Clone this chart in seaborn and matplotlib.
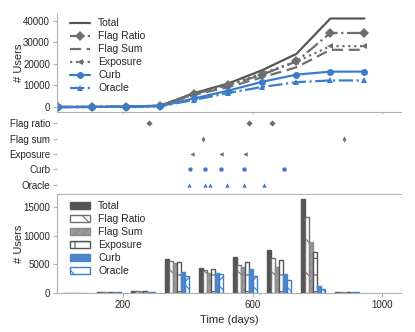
import numpy as np
import pandas as pd
import seaborn as sns
import matplotlib.pyplot as plt

# --- data ---
methods = ['Total', 'Flag Ratio', 'Flag Sum', 'Exposure', 'Curb', 'Oracle']

# cumulative users at the end of each 105-day window
line_days = [0, 105, 210, 315, 420, 525, 630, 735, 840, 945]
line_total = [0, 50, 200, 600, 6500, 10900, 17100, 24600, 41000, 41000]
line_flag_ratio = [0, 50, 200, 600, 6100, 10100, 15000, 21100, 34300, 34300]
line_flag_sum = [0, 50, 200, 550, 5700, 9200, 13800, 18400, 26500, 26500]
line_exposure = [0, 50, 200, 600, 6000, 10200, 15600, 21000, 28200, 28200]
line_curb = [0, 30, 130, 380, 4000, 7600, 11700, 15000, 16400, 16400]
line_oracle = [0, 30, 130, 380, 3300, 6500, 9300, 11500, 12300, 12300]

# per-window users (window centres)
bin_days = [52.5, 157.5, 262.5, 367.5, 472.5, 577.5, 682.5, 787.5, 892.5]
bar_total = [50, 150, 400, 5950, 4400, 6200, 7500, 16400, 100]
bar_flag_ratio = [50, 150, 400, 5500, 4000, 4900, 6100, 13300, 100]
bar_flag_sum = [50, 150, 350, 5200, 3500, 4600, 4600, 8900, 100]
bar_exposure = [50, 150, 400, 5400, 4200, 5400, 5700, 7100, 100]
bar_curb = [30, 100, 250, 3700, 3550, 4100, 3300, 1200, 100]
bar_oracle = [30, 100, 250, 3000, 3300, 3000, 2200, 750, 100]

# days at which each method raised a flag
event_labels = ['Flag ratio', 'Flag sum', 'Exposure', 'Curb', 'Oracle']
events_flag_ratio = [281, 589, 660]
events_flag_sum = [447, 883]
events_exposure = [413, 502, 577]
events_curb = [406, 454, 502, 573, 698]
events_oracle = [403, 452, 469, 521, 573, 635]


def main():
    sns.set_style('ticks')
    plt.rcParams['font.family'] = ['Liberation Sans', 'DejaVu Sans']
    plt.rcParams['font.size'] = 7
    plt.rcParams['hatch.linewidth'] = 0.8

    gray_dark = '#555555'
    gray = '#6e6e6e'
    blue = '#3b7dcb'
    spine_c = '#b0b0b0'

    fig = plt.figure(figsize=(4.15, 3.32), dpi=100)
    ax1 = fig.add_axes([0.1373, 0.6627, 0.829, 0.2952])
    ax2 = fig.add_axes([0.1373, 0.4157, 0.829, 0.2410])
    ax3 = fig.add_axes([0.1373, 0.1175, 0.829, 0.2952])
    xlim = (-4, 1058)

    # 1. cumulative lines
    line_series = [line_total, line_flag_ratio, line_flag_sum,
                   line_exposure, line_curb, line_oracle]
    styles = [
        dict(color=gray_dark, linestyle='-', marker=None),
        dict(color=gray, linestyle='-.', marker='D', markersize=5),
        dict(color=gray, linestyle=(0, (5, 2.5)), marker=None),
        dict(color=gray, linestyle=':', marker='<', markersize=5),
        dict(color=blue, linestyle='-', marker='o', markersize=5),
        dict(color=blue, linestyle='-.', marker='^', markersize=5),
    ]
    for name, vals, st in zip(methods, line_series, styles):
        sns.lineplot(x=line_days, y=vals, ax=ax1, label=name, linewidth=1.6,
                     markeredgewidth=0, **st)
    ax1.set_xlim(*xlim)
    ax1.set_ylim(-2300, 43100)
    ax1.set_yticks([0, 10000, 20000, 30000, 40000])
    ax1.set_xticks([200, 600, 1000])
    ax1.set_xticklabels([])
    ax1.set_ylabel('# Users', fontsize=8)
    ax1.legend(loc='upper left', frameon=False, handlelength=1.9,
               labelspacing=0.29, borderaxespad=0.2, fontsize=7.5,
               bbox_to_anchor=(0.02, 1.02))

    # 2. flag events
    event_series = [events_flag_ratio, events_flag_sum, events_exposure,
                    events_curb, events_oracle]
    ev_markers = ['D', 'd', '<', 'o', '^']
    ev_colors = [gray, gray, gray, blue, blue]
    for i, (days, m, c) in enumerate(zip(event_series, ev_markers, ev_colors)):
        sns.scatterplot(x=days, y=[i] * len(days), marker=m, color=c,
                        s=10, linewidth=0, ax=ax2)
    ax2.set_ylim(4.6, -0.6)
    ax2.set_yticks(range(len(event_labels)))
    ax2.set_yticklabels(event_labels)
    ax2.set_xlim(*xlim)
    ax2.set_xticks([])
    ax2.spines['left'].set_visible(False)

    # 3. per-window bars
    bar_series = [bar_total, bar_flag_ratio, bar_flag_sum,
                  bar_exposure, bar_curb, bar_oracle]
    df = pd.DataFrame({
        'day': bin_days * len(methods),
        'users': sum(bar_series, []),
        'method': sum([[m] * len(bin_days) for m in methods], []),
    })
    sns.barplot(data=df, x='day', y='users', hue='method', hue_order=methods,
                native_scale=True, width=0.7, ax=ax3, errorbar=None)
    fills = [gray_dark, 'white', '#9a9a9a', 'white', '#4a86c8', 'white']
    edges = [gray_dark, gray, '#8a8a8a', gray_dark, '#4a86c8', blue]
    hatches = [None, '\\', '////', '+', None, 'x']
    for cont, fc, ec, h in zip(ax3.containers, fills, edges, hatches):
        for p in cont:
            p.set_facecolor(fc)
            p.set_edgecolor(ec)
            p.set_linewidth(1.0)
            if h:
                p.set_hatch(h)
    handles, labels = ax3.get_legend_handles_labels()
    for hnd, fc, ec, h in zip(handles, fills, edges, hatches):
        hnd.set_facecolor(fc)
        hnd.set_edgecolor(ec)
        hnd.set_linewidth(1.0)
        if h:
            hnd.set_hatch(h)
    ax3.legend(handles, labels, loc='upper left', frameon=False,
               handlelength=1.9, labelspacing=0.29, borderaxespad=0.2,
               fontsize=7.5, bbox_to_anchor=(0.02, 1.0))
    ax3.set_xlim(*xlim)
    ax3.set_ylim(0, 17100)
    ax3.set_yticks([0, 5000, 10000, 15000])
    ax3.set_xticks([200, 600, 1000])
    ax3.set_xticklabels(['200', '600', '1000'])
    ax3.set_xlabel('Time (days)', fontsize=8)
    ax3.set_ylabel('# Users', fontsize=8)

    for ax in (ax1, ax2, ax3):
        for s in ('top', 'right'):
            ax.spines[s].set_visible(False)
        for s in ('left', 'bottom'):
            ax.spines[s].set_color(spine_c)
        ax.tick_params(color=spine_c, length=3, labelsize=7, pad=2)
    ax1.yaxis.set_label_coords(-0.095, 0.5)
    ax3.yaxis.set_label_coords(-0.095, 0.5)

    fig.savefig('out.png', dpi=100)
    plt.close(fig)


if __name__ == '__main__':
    main()
